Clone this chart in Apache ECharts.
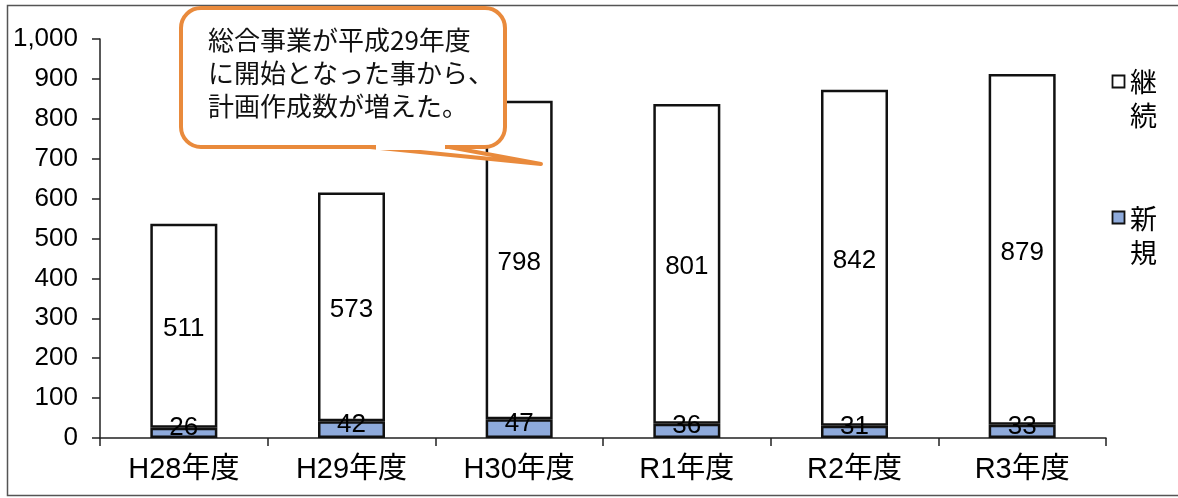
<!DOCTYPE html>
<html>
<head>
<meta charset="utf-8">
<script src="https://cdn.jsdelivr.net/npm/echarts@6/dist/echarts.min.js"></script>
<style>
html,body{margin:0;padding:0;background:#fff;}
#c{width:1178px;height:498px;}
</style>
</head>
<body>
<div id="c"></div>
<script>
const categories = ['H28年度','H29年度','H30年度','R1年度','R2年度','R3年度'];
const newValues = [26, 42, 47, 36, 31, 33];
const continueValues = [511, 573, 798, 801, 842, 879];
const yTicks = [0,100,200,300,400,500,600,700,800,900,1000];
const seriesNames = ['新規','継続'];
const calloutLines = ['総合事業が平成29年度','に開始となった事から、','計画作成数が増えた。'];

const chart = echarts.init(document.getElementById('c'));
const numFont = '"Liberation Sans", Arial, sans-serif';
const jpFont = '"Liberation Sans", "Noto Sans CJK JP", sans-serif';
const orange = '#E98A3C';

chart.setOption({
  backgroundColor: '#ffffff',
  animation: false,
  grid: { left: 100, right: 72, top: 39, bottom: 60 },
  xAxis: {
    type: 'category',
    data: categories,
    axisLine: { lineStyle: { color: '#222', width: 1.5 } },
    axisTick: { show: true, length: 8, lineStyle: { color: '#222', width: 1.5 } },
    axisLabel: { color: '#000', fontSize: 29, fontFamily: jpFont, margin: 17 }
  },
  yAxis: {
    type: 'value',
    min: yTicks[0],
    max: yTicks[yTicks.length - 1],
    interval: yTicks[1] - yTicks[0],
    splitLine: { show: false },
    axisLine: { show: true, lineStyle: { color: '#222', width: 1.5 } },
    axisTick: { show: true, length: 8, lineStyle: { color: '#222', width: 1.5 } },
    axisLabel: {
      color: '#000', fontSize: 26, fontFamily: numFont, margin: 22,
      formatter: v => v.toLocaleString('en-US')
    }
  },
  series: [
    {
      name: seriesNames[0],
      type: 'bar',
      stack: 'total',
      barWidth: 67,
      z: 3,
      data: newValues,
      itemStyle: { color: '#8eaadb', borderColor: '#111', borderWidth: 2.5 },
      label: { show: true, position: 'inside', offset: [0, -5], color: '#000', fontSize: 26, fontFamily: numFont, textBorderWidth: 0, textBorderColor: 'transparent' }
    },
    {
      name: seriesNames[1],
      type: 'bar',
      stack: 'total',
      barWidth: 67,
      z: 2,
      data: continueValues,
      itemStyle: { color: '#ffffff', borderColor: '#111', borderWidth: 2.5 },
      label: { show: true, position: 'inside', offset: [0, 3], color: '#000', fontSize: 26, fontFamily: numFont, textBorderWidth: 0, textBorderColor: 'transparent' }
    }
  ],
  graphic: [
    { type: 'rect', shape: { x: 7.5, y: 5.5, width: 1200, height: 490 }, style: { fill: 'none', stroke: '#555', lineWidth: 1.5 }, z: 1, silent: true },
    { type: 'rect', shape: { x: 181, y: 8, width: 324, height: 139, r: 20 }, style: { fill: '#ffffff', stroke: orange, lineWidth: 4 }, z: 100 },
    { type: 'polygon', shape: { points: [[370, 147], [449, 147], [541, 164]] }, style: { fill: '#ffffff', stroke: orange, lineWidth: 4, lineJoin: 'round' }, z: 100 },
    { type: 'line', shape: { x1: 376, y1: 147, x2: 445, y2: 147 }, style: { stroke: '#ffffff', lineWidth: 6 }, z: 100 },
    { type: 'text', left: 208, top: 24, z: 101,
      style: { text: calloutLines.join('\n'), fontSize: 26, lineHeight: 33, fill: '#111', fontFamily: '"Noto Sans CJK JP", sans-serif' } },
    // legend
    { type: 'rect', shape: { x: 1112.5, y: 75.5, width: 12, height: 12 }, style: { fill: '#ffffff', stroke: '#111', lineWidth: 1.8 }, z: 101 },
    { type: 'text', left: 1130, top: 65, z: 101,
      style: { text: seriesNames[1].split('').join('\n'), fontSize: 27, lineHeight: 34, fill: '#000', fontFamily: '"Noto Sans CJK JP", sans-serif' } },
    { type: 'rect', shape: { x: 1112.5, y: 211.5, width: 12, height: 12 }, style: { fill: '#8eaadb', stroke: '#111', lineWidth: 1.8 }, z: 101 },
    { type: 'text', left: 1130, top: 202, z: 101,
      style: { text: seriesNames[0].split('').join('\n'), fontSize: 27, lineHeight: 34, fill: '#000', fontFamily: '"Noto Sans CJK JP", sans-serif' } }
  ]
});
</script>
</body>
</html>
